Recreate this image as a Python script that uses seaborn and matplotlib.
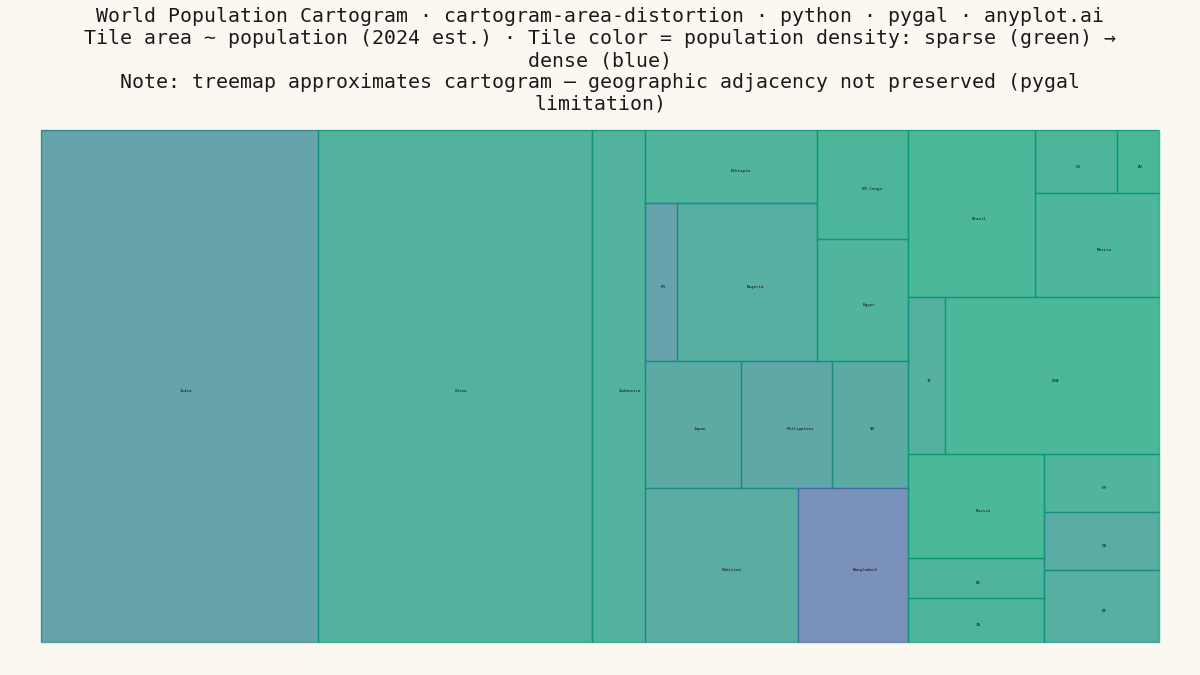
import matplotlib
matplotlib.use("Agg")
import matplotlib.pyplot as plt
import seaborn as sns

# population in millions (2024 est.) and density in people per km2
countries = ["India", "China", "Indonesia", "Ethiopia", "KR", "Nigeria", "DR Congo", "Egypt",
             "Japan", "Philippines", "VN", "Pakistan", "Bangladesh", "Brazil", "CO", "AU",
             "Mexico", "IT", "USA", "Russia", "KE", "ZA", "FR", "GB", "DE"]
population = [1441, 1425, 279, 127, 51, 224, 101, 113,
              124, 117, 98, 239, 172, 216, 53, 27,
              131, 59, 341, 144, 55, 61, 68, 68, 84]
density = [480, 150, 150, 115, 530, 245, 45, 113,
           340, 390, 310, 300, 1300, 25, 46, 3.4,
           66, 200, 36, 8.5, 95, 50, 120, 280, 240]

# nesting of the tiles, each pair is one split of the parent rectangle
tile_tree = ["India", ["China", ["Indonesia", [
    [[["Ethiopia", ["KR", "Nigeria"]], ["DR Congo", "Egypt"]],
     [["Japan", ["Philippines", "VN"]], ["Pakistan", "Bangladesh"]]],
    [["Brazil", [["CO", "AU"], "Mexico"]],
     [["IT", "USA"], [[["Russia", "KE"], "ZA"], ["FR", ["GB", "DE"]]]]],
]]]]

title_lines = [
    "World Population Cartogram · cartogram-area-distortion · python · pygal · anyplot.ai",
    "Tile area ~ population (2024 est.) · Tile color = population density: sparse (green) →",
    "dense (blue)",
    "Note: treemap approximates cartogram — geographic adjacency not preserved (pygal",
    "limitation)",
]

BG = "#FAF8F1"
INK = "#1A1A1A"
PLOT_W, PLOT_H = 1118, 512
DENSITY_CAP = 900

pop_by_name = dict(zip(countries, population))
density_by_name = dict(zip(countries, density))


def subtree_total(node):
    if isinstance(node, str):
        return pop_by_name[node]
    return sum(subtree_total(child) for child in node)


def layout(node, x, y, w, h, out):
    # binary split along the longer side, same rule pygal uses
    if isinstance(node, str):
        out.append((node, x, y, w, h))
        return
    first, second = node
    share = subtree_total(first) / subtree_total(node)
    if h > w:
        layout(first, x, y, w, h * share, out)
        layout(second, x, y + h * share, w, h * (1 - share), out)
    else:
        layout(first, x, y, w * share, h, out)
        layout(second, x + w * share, y, w * (1 - share), h, out)


sns.set_theme(style="white", rc={"figure.facecolor": BG, "axes.facecolor": BG})
plt.rcParams["font.family"] = ["DejaVu Sans Mono"]

density_cmap = sns.blend_palette(["#009E73", "#4467A3"], as_cmap=True)

fig = plt.figure(figsize=(12, 6.75), dpi=100)
ax = fig.add_axes([41 / 1200, 1 - 642 / 675, PLOT_W / 1200, PLOT_H / 675])

tiles = []
layout(tile_tree, 0, 0, PLOT_W, PLOT_H, tiles)

for name, x, y, w, h in tiles:
    color = density_cmap(min(density_by_name[name] / DENSITY_CAP, 1.0))
    ax.bar(x, h, width=w, bottom=y, align="edge", color=color, alpha=0.7, linewidth=0)
    ax.bar(x, h, width=w, bottom=y, align="edge", fill=False, edgecolor=color,
           linewidth=1.0, alpha=0.75, clip_on=False)
    # labels start at the tile centre instead of being centred on it
    ax.annotate(name, (x + w / 2, y + h / 2), xytext=(0, -3.6), textcoords="offset points",
                ha="left", va="center", fontsize=3.0, color="#111111")

ax.set_xlim(0, PLOT_W)
ax.set_ylim(PLOT_H, 0)
ax.axis("off")

fig.text(0.5, 1 - 7.5 / 675, "\n".join(title_lines), ha="center", va="top",
         fontsize=14.35, color=INK, linespacing=1.19)

fig.savefig("out.png", dpi=100, facecolor=BG)
